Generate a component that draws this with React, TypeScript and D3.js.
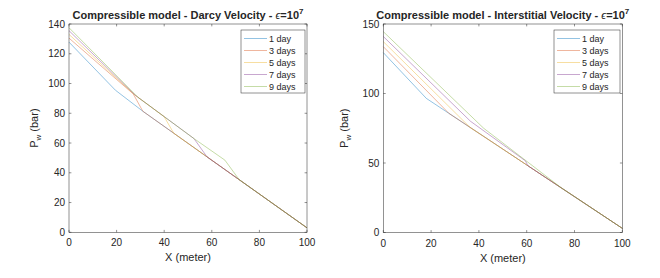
import React from 'react'
import * as d3 from 'd3'

const days = ['1 day', '3 days', '5 days', '7 days', '9 days']
const colors = ['#0072BD', '#D95319', '#EDB120', '#7E2F8E', '#77AC30']
const xTicks = [0, 20, 40, 60, 80, 100]
const darcyTicks = [0, 20, 40, 60, 80, 100, 120, 140]
const interTicks = [0, 50, 100, 150]

// Darcy velocity: [X (meter), Pw (bar)]
const darcy1 = [[0, 127.8], [19.5, 95.5], [31, 81.4], [58, 50.7], [72, 34.8], [100, 3]]
const darcy3 = [[0, 130.5], [27, 93], [31, 81.4], [58, 50.7], [72, 34.8], [100, 3]]
const darcy5 = [[0, 133], [27.5, 92.5], [40, 77.7], [44, 66.6], [58, 50.7], [72, 34.8], [100, 3]]
const darcy7 = [[0, 135.5], [28, 91.9], [52.5, 63], [58, 50.7], [72, 34.8], [100, 3]]
const darcy9 = [[0, 137.5], [29, 90.7], [52.5, 63], [65.5, 48.5], [71.5, 35.4], [100, 3]]

// Interstitial velocity
const inter1 = [[0, 129.4], [18, 96.5], [60, 48.6], [100, 3]]
const inter3 = [[0, 133.7], [27.4, 85.8], [60, 48.6], [100, 3]]
const inter5 = [[0, 137.3], [36.3, 75.6], [60, 48.6], [100, 3]]
const inter7 = [[0, 141], [36.5, 80], [59.5, 51.5], [60.5, 48], [100, 3]]
const inter9 = [[0, 144.5], [42, 75], [74.5, 32.1], [100, 3]]

const font = '"Liberation Sans", Arial, Helvetica, sans-serif'
const ink = '#262626'

const Panel = ({ left, right, top, bottom, yMax, yTicks, series, name, labelX, legendX, legendW }) => {
  const x = d3.scaleLinear().domain([0, 100]).range([left, right])
  const y = d3.scaleLinear().domain([0, yMax]).range([bottom, top])
  const line = d3.line<number[]>().x((d) => x(d[0])).y((d) => y(d[1]))
  const tl = 2.4
  const cx = (left + right) / 2
  const cy = (top + bottom) / 2

  return (
    <g fontFamily={font} fill={ink}>
      {series.map((s, i) => (
        <path key={i} d={line(s) || ''} fill="none" stroke={colors[i]} strokeWidth={0.5} strokeOpacity={0.85} />
      ))}
      <rect x={left} y={top} width={right - left} height={bottom - top} fill="none" stroke={ink} strokeWidth={0.5} />
      {xTicks.map((t) => (
        <g key={'x' + t}>
          <line x1={x(t)} x2={x(t)} y1={bottom} y2={bottom - tl} stroke={ink} strokeWidth={0.5} />
          <line x1={x(t)} x2={x(t)} y1={top} y2={top + tl} stroke={ink} strokeWidth={0.5} />
          <text x={x(t)} y={bottom + 14} fontSize={10} textAnchor="middle">{t}</text>
        </g>
      ))}
      {yTicks.map((t) => (
        <g key={'y' + t}>
          <line x1={left} x2={left + tl} y1={y(t)} y2={y(t)} stroke={ink} strokeWidth={0.5} />
          <line x1={right} x2={right - tl} y1={y(t)} y2={y(t)} stroke={ink} strokeWidth={0.5} />
          <text x={left - 4} y={y(t) + 3.6} fontSize={10} textAnchor="end">{t}</text>
        </g>
      ))}
      <text x={cx} y={bottom + 29} fontSize={11} textAnchor="middle">X (meter)</text>
      <text transform={`translate(${labelX},${cy}) rotate(-90)`} fontSize={11} textAnchor="middle">
        P<tspan fontSize={8} dy={3}>w</tspan>
        <tspan dy={-3}> (bar)</tspan>
      </text>
      <text x={cx} y={18.5} fontSize={11} fontWeight="bold" textAnchor="middle">
        {`Compressible model - ${name} Velocity - `}
        <tspan fontWeight="normal" fontStyle="italic">ϵ</tspan>
        =10
        <tspan fontSize={8} dy={-5}>7</tspan>
      </text>
      <rect x={legendX} y={30} width={legendW} height={63} fill="#fff" stroke={ink} strokeWidth={0.5} />
      {days.map((d, i) => (
        <g key={d}>
          <line x1={legendX + 3} x2={legendX + 26} y1={38.5 + 12 * i} y2={38.5 + 12 * i} stroke={colors[i]} strokeWidth={0.5} strokeOpacity={0.85} />
          <text x={legendX + 28} y={38.5 + 12 * i + 3.3} fontSize={9}>{d}</text>
        </g>
      ))}
    </g>
  )
}

const App = () => {
  return (
    <svg width={660} height={278} style={{ position: 'absolute', left: 0, top: 0, background: '#fff' }}>
      <rect width={660} height={278} fill="#fff" />
      <Panel
        left={69} right={307} top={24} bottom={232.3}
        yMax={140} yTicks={darcyTicks}
        series={[darcy1, darcy3, darcy5, darcy7, darcy9]}
        name="Darcy" labelX={37.5} legendX={241} legendW={64}
      />
      <Panel
        left={383.3} right={622.3} top={24} bottom={232.5}
        yMax={150} yTicks={interTicks}
        series={[inter1, inter3, inter5, inter7, inter9]}
        name="Interstitial" labelX={348} legendX={554} legendW={66}
      />
    </svg>
  )
}

export default App
